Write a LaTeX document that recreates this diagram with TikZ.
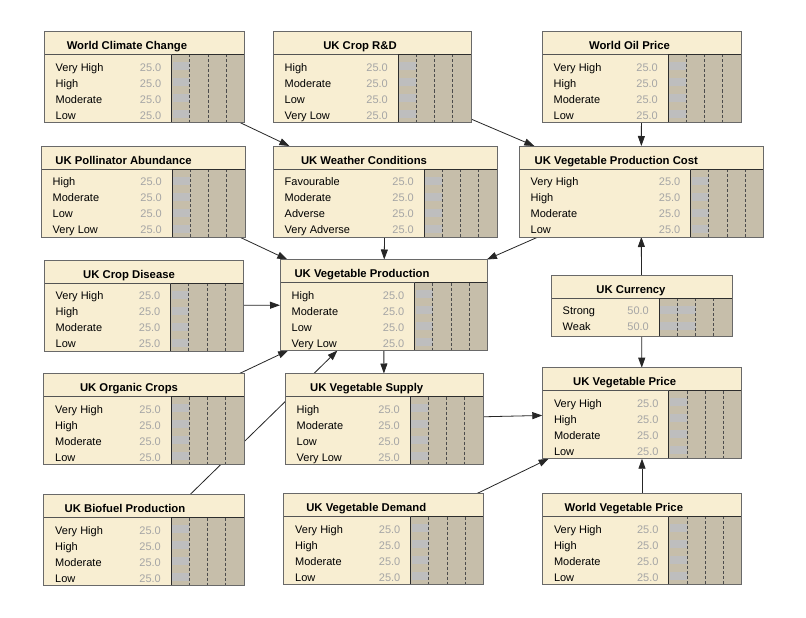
\documentclass[tikz,border=0pt]{standalone}
\usepackage{fontspec}
\setmainfont{Liberation Sans}
\usetikzlibrary{arrows.meta}
\definecolor{bncream}{RGB}{248,238,210}
\definecolor{bnbar}{RGB}{198,190,170}
\definecolor{bngrey}{RGB}{190,190,190}
\definecolor{bnval}{RGB}{165,165,165}
\definecolor{bnframe}{RGB}{105,105,105}
\definecolor{bndark}{RGB}{45,45,45}
\pgfdeclarelayer{bg}
\pgfdeclarelayer{edgelayer}
\pgfsetlayers{bg,edgelayer,main}
\tikzset{
  boxnode/.style={rectangle, fill=bncream, draw=none, inner sep=0pt, outer sep=0pt},
  titletxt/.style={font=\fontsize{11.3}{13}\selectfont\bfseries, inner sep=0pt},
  statetxt/.style={font=\fontsize{11}{13}\selectfont, inner sep=0pt},
  valtxt/.style={statetxt, text=bnval},
  frameline/.style={draw=bnframe, line width=1pt},
  darkline/.style={draw=bndark, line width=1pt},
  dashline/.style={draw=bndark!85, line width=0.9pt, dash pattern=on 3pt off 2pt},
  bnarrow/.style={draw=black!85, line width=0.8pt, -{Triangle[length=10pt,width=7pt]}}
}
% #1 name #2 left #3 top #4 width #5 nstates #6 title #7 title dx #8 states
\newcommand\bnbox[8]{%
\begin{scope}[shift={(#2,#3)}]
  \pgfmathsetmacro\bnH{23+4+16*#5+(#5<3)*2}
  \pgfmathsetmacro\bnB{#4-73}
  \node[boxnode, minimum width=#4pt, minimum height=\bnH pt, anchor=north west] (#1) at (0,0) {};
  \fill[bnbar] (\bnB,23) rectangle (#4,\bnH);
  \foreach \lab/\val [count=\i] in {#8}{
    \pgfmathsetmacro\yy{23+4+16*(\i-1)+8}
    \pgfmathsetmacro\bx{\bnB+0.73*\val}
    \fill[bngrey] ({\bnB+1},{\yy-4.5}) rectangle (\bx,{\yy+3.5});
    \node[statetxt, anchor=base west] at (11.5,{\yy+4.8}) {\lab};
    \node[valtxt, anchor=base east] at ({\bnB-10},{\yy+4.8}) {\val};
  }
  \foreach \k in {1,2,3}{
    \draw[dashline] ({\bnB+18.25*\k},23) -- ({\bnB+18.25*\k},\bnH);
  }
  \draw[darkline] (\bnB,23) rectangle (#4,\bnH);
  \draw[darkline, draw=bnframe!80!black] (0,23) -- (\bnB,23);
  \node[titletxt, anchor=base] at ({#4/2+#7},18.2) {#6};
  \draw[frameline] (0,0) rectangle (#4,\bnH);
\end{scope}}
\begin{document}
\begin{tikzpicture}[x=1pt,y=-1pt]
\begin{pgfonlayer}{bg}
  \fill[white] (0,0) rectangle (806,618);
\end{pgfonlayer}
\useasboundingbox (0,0) rectangle (806,618);

\bnbox{wcc}{44}{31.5}{200.5}{4}{World Climate Change}{-17.3}{Very High/25.0,High/25.0,Moderate/25.0,Low/25.0}
\bnbox{crd}{273}{31.5}{198}{4}{UK Crop R\&D}{-12}{High/25.0,Moderate/25.0,Low/25.0,Very Low/25.0}
\bnbox{wop}{542}{31.5}{199}{4}{World Oil Price}{-12}{Very High/25.0,High/25.0,Moderate/25.0,Low/25.0}
\bnbox{upa}{41}{146}{204}{4}{UK Pollinator Abundance}{-19.5}{High/25.0,Moderate/25.0,Low/25.0,Very Low/25.0}
\bnbox{uwc}{273}{146}{224}{4}{UK Weather Conditions}{-21}{Favourable/25.0,Moderate/25.0,Adverse/25.0,Very Adverse/25.0}
\bnbox{vpc}{519}{146}{244.5}{4}{UK Vegetable Production Cost}{-25}{Very High/25.0,High/25.0,Moderate/25.0,Low/25.0}
\bnbox{ucd}{44}{260}{199.5}{4}{UK Crop Disease}{-14.7}{Very High/25.0,High/25.0,Moderate/25.0,Low/25.0}
\bnbox{uvp}{280}{259.5}{207.5}{4}{UK Vegetable Production}{-21.7}{High/25.0,Moderate/25.0,Low/25.0,Very Low/25.0}
\bnbox{ucu}{551}{275}{181}{2}{UK Currency}{-10.5}{Strong/50.0,Weak/50.0}
\bnbox{uoc}{43.5}{373.5}{200.5}{4}{UK Organic Crops}{-14.75}{Very High/25.0,High/25.0,Moderate/25.0,Low/25.0}
\bnbox{uvs}{285}{373.5}{198}{4}{UK Vegetable Supply}{-17.3}{High/25.0,Moderate/25.0,Low/25.0,Very Low/25.0}
\bnbox{uvr}{542.3}{367.7}{199.4}{4}{UK Vegetable Price}{-17.3}{Very High/25.0,High/25.0,Moderate/25.0,Low/25.0}
\bnbox{ubp}{43.5}{494.5}{200.5}{4}{UK Biofuel Production}{-18.75}{Very High/25.0,High/25.0,Moderate/25.0,Low/25.0}
\bnbox{uvd}{283.5}{493.5}{200}{4}{UK Vegetable Demand}{-17.2}{Very High/25.0,High/25.0,Moderate/25.0,Low/25.0}
\bnbox{wvp}{542.3}{493.3}{199.4}{4}{World Vegetable Price}{-18.2}{Very High/25.0,High/25.0,Moderate/25.0,Low/25.0}

\begin{pgfonlayer}{edgelayer}
  \draw[bnarrow] (wcc) -- (uwc);
  \draw[bnarrow] (crd) -- (vpc);
  \draw[bnarrow] (wop) -- (vpc);
  \draw[bnarrow] (upa) -- (uvp);
  \draw[bnarrow] (uwc) -- (uvp);
  \draw[bnarrow] (vpc) -- (uvp);
  \draw[bnarrow] (ucd) -- (uvp);
  \draw[bnarrow] (uoc) -- (uvp);
  \draw[bnarrow] (ubp) -- (uvp);
  \draw[bnarrow] (ucu) -- (vpc);
  \draw[bnarrow] (uvp) -- (uvs);
  \draw[bnarrow] (ucu) -- (uvr);
  \draw[bnarrow] (uvs) -- (uvr);
  \draw[bnarrow] (uvd) -- (uvr);
  \draw[bnarrow] (wvp) -- (uvr);
\end{pgfonlayer}
\end{tikzpicture}
\end{document}
